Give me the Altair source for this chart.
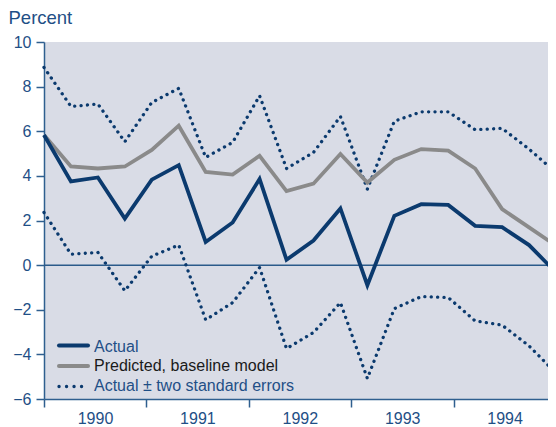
import altair as alt
import pandas as pd

# ---- data (quarterly, 1990Q1 .. 1994Q4) ----
quarters = ["1990Q1", "1990Q2", "1990Q3", "1990Q4",
            "1991Q1", "1991Q2", "1991Q3", "1991Q4",
            "1992Q1", "1992Q2", "1992Q3", "1992Q4",
            "1993Q1", "1993Q2", "1993Q3", "1993Q4",
            "1994Q1", "1994Q2", "1994Q3", "1994Q4"]
actual = [5.83, 3.75, 3.93, 2.09, 3.83, 4.48, 1.04, 1.91, 3.86, 0.24,
          1.10, 2.54, -0.90, 2.21, 2.73, 2.70, 1.76, 1.70, 0.90, -0.33]
predicted = [5.83, 4.42, 4.33, 4.42, 5.16, 6.25, 4.18, 4.06, 4.90, 3.32,
             3.65, 4.98, 3.70, 4.72, 5.20, 5.13, 4.33, 2.51, 1.69, 0.87]
upper = [8.86, 7.11, 7.22, 5.53, 7.29, 7.92, 4.83, 5.50, 7.59, 4.33,
         5.05, 6.66, 3.41, 6.45, 6.87, 6.87, 6.07, 6.13, 5.20, 4.15]
lower = [2.36, 0.49, 0.57, -1.15, 0.40, 0.90, -2.45, -1.68, -0.11, -3.74,
         -3.02, -1.68, -5.08, -1.95, -1.41, -1.45, -2.50, -2.69, -3.62, -4.84]

year_labels = ["1990", "1991", "1992", "1993", "1994"]
year_tick_pos = [0, 3.8, 7.6, 11.4, 15.2]   # year boundaries in quarter-index units
y_ticks = [-6, -4, -2, 0, 2, 4, 6, 8, 10]
legend_labels = ["Actual", "Predicted, baseline model", "Actual \u00b1 two standard errors"]

# ---- styles ----
NAVY = "#0b3a6e"
GRAY = "#8a8a8a"
AXIS = "#2f5f8f"
LBL = "#1f4f86"
BG = "#d9dce6"
FONT = "Liberation Sans"

idx = list(range(len(quarters)))
solid_df = pd.DataFrame({
    "t": idx + idx,
    "v": actual + predicted,
    "series": ["Actual"] * len(idx) + ["Predicted"] * len(idx),
})
band_df = pd.DataFrame({
    "t": idx + idx,
    "v": upper + lower,
    "series": ["Upper"] * len(idx) + ["Lower"] * len(idx),
})
zero_df = pd.DataFrame({"v": [0]})
legend_df = pd.DataFrame({"label": legend_labels, "slot": [0, 1, 2]})

label_expr = "[" + ",".join("'%s'" % s for s in year_labels) + "][round(datum.value / 3.8)]"

# plot area is 504 px wide in the window; the scale runs to 512 px so the
# last quarter sits at the window's right edge, as in the (cropped) reference
X = alt.X("t:Q",
          scale=alt.Scale(domain=[0, 19], range=[0, 512], nice=False, zero=False),
          axis=alt.Axis(values=year_tick_pos, labelExpr=label_expr, labelOffset=51,
                        tickSize=8, labelFontSize=16, labelFont=FONT, labelColor=LBL,
                        labelPadding=3, domainColor=AXIS, tickColor=AXIS,
                        domainWidth=1.5, tickWidth=1.5, grid=False, title=None,
                        labelFlush=False, labelOverlap=False))
Y = alt.Y("v:Q",
          scale=alt.Scale(domain=[-6, 10], nice=False, zero=False),
          axis=alt.Axis(values=y_ticks, title="Percent", titleAngle=0, titleX=-36,
                        titleY=-19, titleAlign="left", titleBaseline="alphabetic",
                        titleFontSize=18.5, titleFont=FONT, titleFontWeight="normal",
                        titleColor=LBL, tickSize=8, labelPadding=5, labelFontSize=16,
                        labelFont=FONT, labelColor=LBL, domainColor=AXIS, tickColor=AXIS,
                        domainWidth=1.5, tickWidth=1.5, grid=False))

zero = alt.Chart(zero_df).mark_rule(color="#2b5a8a", strokeWidth=1.5).encode(y=Y)

band = alt.Chart(band_df).mark_line(
    color=NAVY, strokeWidth=3.3, strokeDash=[0.1, 6.3], strokeCap="round"
).encode(x=X, y=Y, detail="series:N")

pred = alt.Chart(solid_df).transform_filter(alt.datum.series == "Predicted").mark_line(
    color=GRAY, strokeWidth=3.8
).encode(x=X, y=Y)

act = alt.Chart(solid_df).transform_filter(alt.datum.series == "Actual").mark_line(
    color=NAVY, strokeWidth=3.8
).encode(x=X, y=Y)

# ---- manual legend (inside plot, bottom left) ----
def leg_rule(slot, color, ypos, dash=None):
    kw = dict(color=color, strokeWidth=4 if dash is None else 3.3, strokeCap="round")
    if dash is not None:
        kw["strokeDash"] = dash
    return alt.Chart(legend_df).transform_filter(alt.datum.slot == slot).mark_rule(**kw).encode(
        x=alt.value(15), x2=alt.value(44.7 if dash else 44), y=alt.value(ypos))

def leg_text(slot, color, ypos):
    return alt.Chart(legend_df).transform_filter(alt.datum.slot == slot).mark_text(
        align="left", baseline="alphabetic", fontSize=16, font=FONT, color=color
    ).encode(x=alt.value(50), y=alt.value(ypos), text="label:N")

legend = [
    leg_rule(0, NAVY, 303.5), leg_text(0, LBL, 309.7),
    leg_rule(1, GRAY, 324), leg_text(1, "#1a1a1a", 329.2),
    leg_rule(2, NAVY, 344.5, dash=[0.1, 7.4]), leg_text(2, LBL, 349.2),
]

chart = alt.layer(zero, band, pred, act, *legend).properties(
    width=504, height=357,
    autosize=alt.AutoSizeParams(type="none"),
    padding={"left": 36, "top": 34, "right": 0, "bottom": 27},
).configure_view(fill=BG, stroke=None)

chart.save("out.html", embed_options={"renderer": "svg", "actions": False})
